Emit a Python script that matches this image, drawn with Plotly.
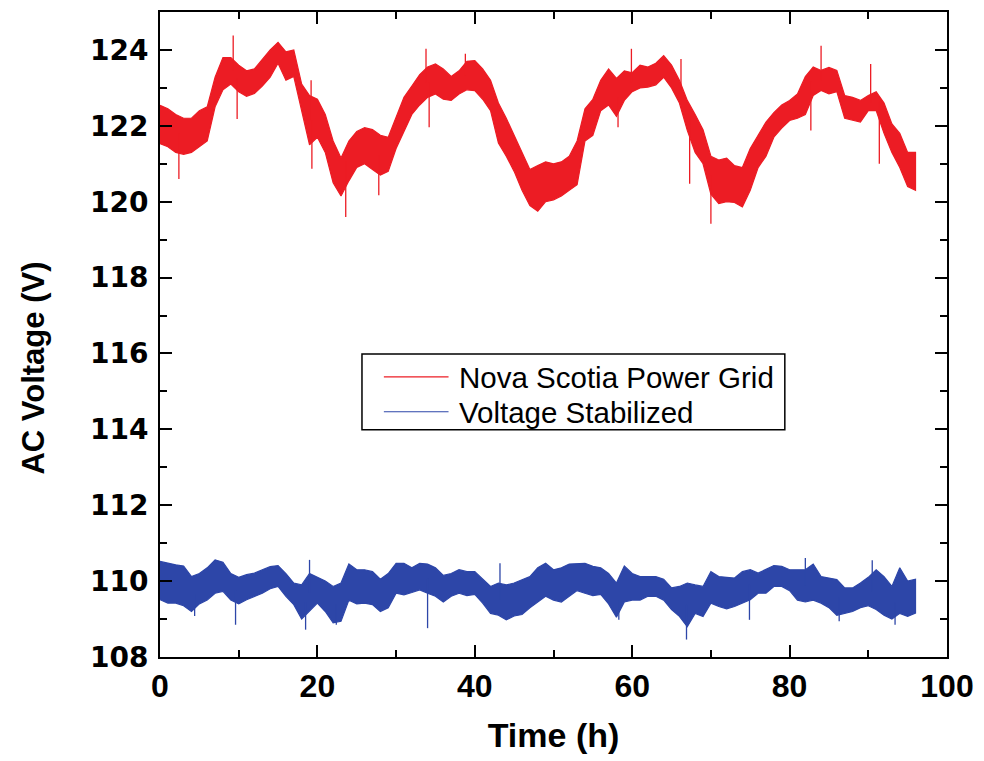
import plotly.graph_objects as go

# ---------------- data ----------------
hours = list(range(0, 97))

# Nova Scotia Power Grid: upper / lower envelope of the noisy trace, per hour
grid_hi = [122.54, 122.45, 122.30, 122.20, 122.20, 122.40, 122.50, 123.28, 123.80, 123.80,
           123.60, 123.45, 123.50, 123.75, 124.00, 124.20, 123.95, 124.00, 123.10, 122.80,
           122.70, 122.30, 121.60, 121.15, 121.60, 121.85, 121.95, 121.90, 121.75, 121.70,
           122.20, 122.75, 123.05, 123.35, 123.55, 123.63, 123.50, 123.30, 123.45, 123.70,
           123.72, 123.50, 123.20, 122.60, 122.20, 121.75, 121.30, 120.85, 120.95, 121.05,
           121.00, 121.05, 121.20, 121.60, 122.45, 122.70, 123.20, 123.50, 123.25, 123.45,
           123.40, 123.60, 123.55, 123.65, 123.85, 123.60, 123.20, 122.67, 122.30, 121.90,
           121.20, 121.10, 121.15, 120.95, 120.90, 121.40, 121.75, 122.10, 122.35, 122.55,
           122.67, 122.84, 123.30, 123.55, 123.46, 123.54, 123.46, 122.80, 122.75, 122.67,
           122.80, 122.90, 122.60, 122.05, 121.80, 121.30, 121.30]
grid_lo = [121.53, 121.45, 121.30, 121.25, 121.30, 121.44, 121.60, 122.50, 122.95, 123.10,
           122.90, 122.78, 122.85, 123.05, 123.28, 123.65, 123.20, 123.30, 122.40, 121.50,
           121.70, 121.30, 120.50, 120.15, 120.55, 120.90, 121.00, 120.85, 120.70, 120.80,
           121.40, 121.85, 122.30, 122.55, 122.75, 122.84, 122.70, 122.67, 122.84, 122.95,
           122.93, 122.70, 122.40, 121.55, 121.20, 120.80, 120.30, 119.90, 119.75, 120.00,
           120.05, 120.15, 120.30, 120.45, 121.60, 121.75, 122.40, 122.55, 122.25, 122.67,
           122.90, 123.00, 123.02, 123.08, 123.28, 123.00, 122.60, 121.88, 121.30, 121.00,
           120.20, 119.95, 120.00, 119.98, 119.86, 120.30, 120.90, 121.20, 121.70, 121.94,
           122.14, 122.20, 122.30, 122.80, 122.93, 122.84, 122.90, 122.20, 122.14, 122.10,
           122.40, 122.40, 121.80, 121.30, 120.90, 120.40, 120.30]
grid_spike_t = [2.4, 9.3, 9.8, 19.2, 19.3, 23.6, 27.8, 33.8, 34.2, 38.8, 58.2, 59.9, 66.2, 67.3,
                70.0, 82.7, 84.0, 90.3, 91.4]
grid_spike_v = [120.60, 124.38, 122.18, 123.20, 120.87, 119.60, 120.17, 124.03, 121.96, 123.90,
                121.96, 124.03, 123.76, 120.47, 119.42, 121.88, 124.11, 123.63, 121.00]

# Voltage Stabilized: upper / lower envelope, per hour
stab_hi = [110.52, 110.47, 110.43, 110.40, 110.12, 110.20, 110.35, 110.56, 110.50, 110.20,
           110.10, 110.17, 110.21, 110.30, 110.38, 110.41, 110.20, 109.95, 109.90, 110.20,
           110.10, 110.00, 109.86, 109.95, 110.45, 110.30, 110.30, 110.25, 110.05, 110.20,
           110.47, 110.47, 110.35, 110.47, 110.45, 110.35, 110.15, 110.20, 110.30, 110.25,
           110.25, 110.05, 109.86, 109.95, 109.90, 109.95, 110.04, 110.12, 110.35, 110.47,
           110.30, 110.35, 110.45, 110.47, 110.47, 110.39, 110.35, 110.20, 109.95, 110.40,
           110.20, 110.12, 110.12, 110.12, 110.05, 109.82, 109.86, 109.95, 109.90, 109.86,
           110.25, 110.12, 110.10, 110.08, 110.25, 110.30, 110.21, 110.30, 110.41, 110.39,
           110.30, 110.30, 110.30, 110.45, 110.12, 110.08, 110.04, 109.82, 109.82, 109.95,
           110.10, 110.30, 110.12, 109.86, 110.35, 110.00, 110.05]
stab_lo = [109.51, 109.42, 109.42, 109.35, 109.20, 109.40, 109.50, 109.68, 109.73, 109.50,
           109.40, 109.51, 109.60, 109.68, 109.80, 109.86, 109.60, 109.38, 109.00, 109.20,
           109.42, 109.20, 108.90, 108.94, 109.50, 109.40, 109.42, 109.38, 109.20, 109.30,
           109.68, 109.64, 109.70, 109.77, 109.68, 109.60, 109.45, 109.60, 109.68, 109.62,
           109.65, 109.42, 109.15, 109.10, 108.98, 109.08, 109.12, 109.30, 109.45, 109.60,
           109.50, 109.45, 109.60, 109.75, 109.68, 109.62, 109.65, 109.40, 109.05, 109.45,
           109.50, 109.50, 109.60, 109.60, 109.50, 109.25, 109.07, 108.80, 109.15, 109.07,
           109.42, 109.33, 109.27, 109.33, 109.42, 109.51, 109.68, 109.68, 109.86, 109.86,
           109.75, 109.50, 109.45, 109.50, 109.42, 109.30, 109.10, 109.16, 109.20, 109.30,
           109.35, 109.25, 109.10, 109.00, 109.15, 109.07, 109.16]
stab_spike_t = [4.4, 9.6, 18.5, 19.0, 22.4, 34.0, 43.2, 58.3, 66.9, 74.9, 82.0, 86.3, 90.5, 93.4]
stab_spike_v = [109.08, 108.85, 108.72, 110.56, 108.85, 108.76, 110.47, 108.98, 108.46, 108.98,
                110.61, 108.94, 110.55, 108.85]

series_names = ["Nova Scotia Power Grid", "Voltage Stabilized"]
x_ticks = [0, 20, 40, 60, 80, 100]
y_ticks = [108, 110, 112, 114, 116, 118, 120, 122, 124]

RED = "#EC1C24"
BLUE = "#2D46A8"

fig = go.Figure()


def add_band(t, hi, lo, sp_t, sp_v, color):
    # noisy band: upper envelope forward, lower envelope backward
    fig.add_trace(go.Scatter(
        x=t + t[::-1], y=hi + lo[::-1], mode="lines", fill="toself",
        fillcolor=color, line=dict(color=color, width=1.2),
        hoverinfo="skip", showlegend=False))
    # isolated spikes, drawn from the band's middle to the spike tip
    xs, ys = [], []
    for st, sv in zip(sp_t, sp_v):
        i = min(range(len(t)), key=lambda k: abs(t[k] - st))
        mid = (hi[i] + lo[i]) / 2
        xs += [st, st, None]
        ys += [mid, sv, None]
    fig.add_trace(go.Scatter(x=xs, y=ys, mode="lines",
                             line=dict(color=color, width=1.3),
                             hoverinfo="skip", showlegend=False))


add_band(hours, grid_hi, grid_lo, grid_spike_t, grid_spike_v, RED)
add_band(hours, stab_hi, stab_lo, stab_spike_t, stab_spike_v, BLUE)

# ---------------- layout ----------------
L, R, T, B = 160, 951, 10, 657
W, H = 984, 761


def px(xp):
    return (xp - L) / (R - L)


def py(yp):
    return (B - yp) / (B - T)


axis_common = dict(
    showline=True, linecolor="black", linewidth=2, mirror="ticks",
    ticks="inside", ticklen=12, tickwidth=2, tickcolor="black",
    showgrid=False, zeroline=False,
)

fig.update_layout(
    width=W, height=H,
    margin=dict(l=L, r=W - R, t=T, b=H - B),
    paper_bgcolor="white", plot_bgcolor="white",
    showlegend=False,
    xaxis=dict(
        range=[0, 100], tickvals=x_ticks, ticktext=[str(v) for v in x_ticks],
        minor=dict(dtick=10, ticks="inside", ticklen=7, tickwidth=2, tickcolor="black"),
        tickfont=dict(family="Liberation Sans", size=32, color="black", weight="bold"),
        title=dict(text="Time (h)", standoff=20,
                   font=dict(family="Liberation Sans", size=34, color="black", weight="bold")),
        **axis_common),
    yaxis=dict(
        range=[108, 125], tickvals=y_ticks, ticktext=[str(v) for v in y_ticks],
        minor=dict(dtick=1, ticks="inside", ticklen=7, tickwidth=2, tickcolor="black"),
        tickfont=dict(family="DejaVu Sans", size=28, color="black", weight="bold"),
        ticklabelstandoff=4,
        **axis_common),
)

# y-axis title (placed where the reference has it)
fig.add_annotation(xref="paper", yref="paper", x=px(33), y=py(367),
                   xanchor="center", yanchor="middle", textangle=-90, showarrow=False,
                   text="AC Voltage (V)",
                   font=dict(family="Liberation Sans", size=31, color="black", weight="bold"))

# ---------------- legend (box, sample lines, labels) ----------------
fig.add_shape(type="rect", xref="paper", yref="paper",
              x0=px(363), x1=px(788), y0=py(429), y1=py(353),
              line=dict(color="black", width=1.5), fillcolor="white", layer="above")
legend_y = [376, 411]
colors = [RED, BLUE]
for name, yy, c in zip(series_names, legend_y, colors):
    fig.add_shape(type="line", xref="paper", yref="paper",
                  x0=px(385), x1=px(450), y0=py(yy), y1=py(yy),
                  line=dict(color=c, width=1.2), layer="above")
    fig.add_annotation(xref="paper", yref="paper", x=px(459), y=py(yy + 1),
                       xanchor="left", yanchor="middle", showarrow=False,
                       text=name, font=dict(family="Liberation Sans", size=29.5, color="black"))

fig.write_html("out.html")
